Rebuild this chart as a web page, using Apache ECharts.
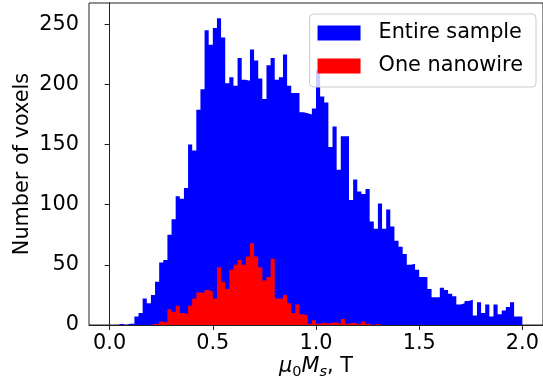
<!DOCTYPE html>
<html>
<head>
<meta charset="utf-8">
<script src="https://cdn.jsdelivr.net/npm/echarts@6/dist/echarts.min.js"></script>
<style>
  html, body { margin: 0; padding: 0; background: #ffffff; }
  #chart { width: 543px; height: 385px; }
</style>
</head>
<body>
<div id="chart"></div>
<script>
// Histogram bins: 100 bins of width 0.02 T starting at 0 T
const binStart = 0;
const binWidth = 0.02;

// Voxel counts per bin, whole sample
const entireSample = [
  0, 0, 1, 0, 1, 1, 7, 10, 22, 18,
  25, 36, 52, 54, 75, 88, 107, 105, 114, 150,
  145, 179, 196, 245, 233, 247, 255, 239, 201, 206,
  199, 222, 204, 203, 229, 220, 205, 188, 216, 222,
  204, 206, 225, 199, 193, 193, 177, 176, 175, 180,
  212, 190, 185, 148, 165, 129, 157, 157, 104, 121,
  111, 109, 113, 86, 80, 101, 80, 96, 82, 70,
  65, 59, 50, 51, 46, 40, 40, 30, 23, 23,
  31, 29, 26, 24, 17, 18, 20, 21, 8, 19,
  10, 17, 7, 17, 9, 12, 15, 19, 7, 7
];

// Voxel counts per bin, single nanowire
const oneNanowire = [
  0, 0, 0, 0, 0, 0, 0, 0, 0, 0,
  1, 1, 3, 2, 13, 11, 16, 10, 9, 16,
  22, 27, 27, 29, 28, 22, 48, 36, 30, 46,
  50, 54, 50, 57, 68, 57, 48, 37, 40, 55,
  22, 22, 25, 18, 10, 17, 9, 8, 1, 4,
  1, 2, 1, 2, 2, 1, 5, 1, 2, 1,
  1, 3, 1, 0, 1, 0, 0, 0, 0, 0,
  0, 0, 0, 0, 0, 0, 0, 0, 0, 0,
  0, 0, 0, 0, 0, 0, 0, 0, 0, 0,
  0, 0, 0, 0, 0, 0, 0, 0, 0, 0
];

const seriesNames = ['Entire sample', 'One nanowire'];
const xTicks = [0, 0.5, 1, 1.5, 2];
const yTicks = [0, 50, 100, 150, 200, 250];

const FONT = 'DejaVu Sans';
const FS = 20.8;

// Each bin becomes a step: the count holds from the bin's left edge to its right edge.
function histSeries(name, counts, color, z) {
  const pts = counts.map((c, i) => [binStart + i * binWidth, c]);
  pts.push([binStart + counts.length * binWidth, counts[counts.length - 1]]);
  return {
    type: 'line',
    name: name,
    z: z,
    step: 'end',
    symbol: 'none',
    showSymbol: false,
    data: pts,
    color: color,
    itemStyle: { color: color },
    lineStyle: { width: 0, color: color },
    areaStyle: { color: color, opacity: 1, origin: 'start' }
  };
}

const yMax = Math.max(...entireSample) * 1.05;

const chart = echarts.init(document.getElementById('chart'), null, { renderer: 'canvas' });
chart.setOption({
  animation: false,
  backgroundColor: '#ffffff',
  grid: {
    left: 89, right: -3, top: 3, bottom: 60,
    show: true, borderColor: '#222', borderWidth: 1, backgroundColor: 'transparent'
  },
  legend: {
    orient: 'vertical',
    right: 7, top: 14,
    data: seriesNames.map(n => ({ name: n, icon: 'rect' })),
    itemWidth: 43, itemHeight: 15, itemGap: 12,
    padding: [8.5, 13, 10.5, 8],
    backgroundColor: 'rgba(255,255,255,0.8)',
    borderColor: '#cccccc', borderWidth: 1, borderRadius: 4,
    itemStyle: { borderWidth: 0 },
    textStyle: { fontFamily: FONT, fontSize: FS, color: '#000', lineHeight: 20, padding: [0, 0, 0, 13] }
  },
  xAxis: {
    type: 'value',
    min: -0.1, max: 2.1,
    z: 10,
    splitLine: { show: false },
    axisLine: { show: true, lineStyle: { color: '#222', width: 1 } },
    axisTick: { show: true, inside: false, length: 5, customValues: xTicks, lineStyle: { color: '#222' } },
    axisLabel: {
      customValues: xTicks, margin: 8,
      fontFamily: FONT, fontSize: FS, color: '#000',
      formatter: v => v.toFixed(1)
    },
    name: '{it|μ}{sub|0}{it|M}{subit|s}{rm|, T}',
    nameLocation: 'middle',
    nameGap: 29,
    nameMoveOverlap: false,
    nameTextStyle: {
      fontFamily: FONT, fontSize: FS, color: '#000',
      rich: {
        it: { fontFamily: FONT, fontSize: FS, fontStyle: 'italic', color: '#000', lineHeight: 26 },
        rm: { fontFamily: FONT, fontSize: FS, color: '#000', lineHeight: 26 },
        sub: { fontFamily: FONT, fontSize: 14.5, color: '#000', lineHeight: 14, verticalAlign: 'bottom' },
        subit: { fontFamily: FONT, fontSize: 14.5, fontStyle: 'italic', color: '#000', lineHeight: 14, verticalAlign: 'bottom' }
      }
    }
  },
  yAxis: {
    type: 'value',
    min: 0, max: yMax,
    z: 10,
    splitLine: { show: false },
    axisLine: { show: true, lineStyle: { color: '#222', width: 1 } },
    axisTick: { show: true, inside: false, length: 5, customValues: yTicks, lineStyle: { color: '#222' } },
    axisLabel: {
      customValues: yTicks, margin: 10,
      fontFamily: FONT, fontSize: FS, color: '#000'
    },
    name: 'Number of voxels',
    nameLocation: 'middle',
    nameGap: 56,
    nameMoveOverlap: false,
    nameTextStyle: { fontFamily: FONT, fontSize: FS, color: '#000' }
  },
  series: [
    histSeries(seriesNames[0], entireSample, '#0000ff', 2),
    histSeries(seriesNames[1], oneNanowire, '#ff0000', 3)
  ]
});
</script>
</body>
</html>
